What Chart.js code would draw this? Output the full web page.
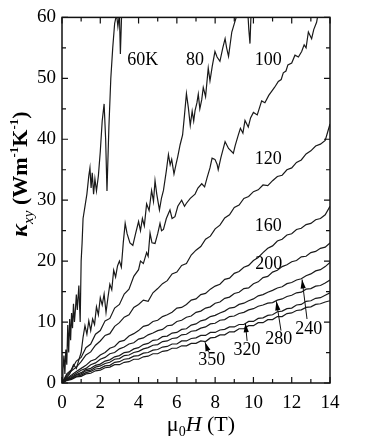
<!DOCTYPE html>
<html>
<head>
<meta charset="utf-8">
<script src="https://cdn.jsdelivr.net/npm/chart.js@4.4.1/dist/chart.umd.min.js"></script>
<style>
  html, body { margin: 0; padding: 0; background: #fff; }
  #wrap { width: 374px; height: 443px; }
</style>
</head>
<body>
<div id="wrap"><canvas id="myChart" width="374" height="443"></canvas></div>
<script>
// field grid (T) shared by the smoother curves
var fieldT = [0,0.25,0.5,0.75,1,1.25,1.5,1.75,2,2.25,2.5,2.75,3,3.25,3.5,3.75,4,4.25,4.5,4.75,5,5.25,5.5,5.75,6,6.25,6.5,6.75,7,7.25,7.5,7.75,8,8.25,8.5,8.75,9,9.25,9.5,9.75,10,10.25,10.5,10.75,11,11.25,11.5,11.75,12,12.25,12.5,12.75,13,13.25,13.5,13.75,14]

var kxy120 = [0,1.2,2.0,2.6,3.5,4.6,5.1,6.2,6.9,7.8,8.1,9.3,9.9,10.8,11.2,12.4,12.9,13.6,13.4,14.8,15.5,16.3,16.8,17.9,18.2,19.3,19.6,21.0,21.8,22.4,23.6,24.1,25.3,25.9,27.1,27.6,28.8,29.2,30.3,30.6,31.4,31.7,32.5,32.4,33.2,33.9,34.1,35.0,35.3,36.2,36.6,37.6,38.1,38.9,39.2,39.8,42.5]
var kxy160 = [0,0.8,1.3,1.9,2.4,2.9,3.6,3.9,4.6,5.0,5.7,6.0,6.8,7.0,7.7,8.1,8.6,9.3,9.5,10.1,10.3,10.9,11.2,11.6,12.3,12.4,12.9,13.6,13.8,14.5,14.7,15.4,15.9,16.2,17.0,17.2,18.0,18.3,19.0,19.3,20.1,20.6,21.4,22.1,22.5,23.3,23.6,24.3,24.5,25.2,25.4,26.0,26.2,26.8,27.0,27.6,29.0]
var kxy200 = [0,0.7,1.1,1.6,2.1,2.4,3.0,3.3,3.9,4.2,4.8,5.0,5.6,5.9,6.4,6.6,7.2,7.4,7.9,8.2,8.6,8.8,9.4,9.5,10.1,10.3,10.8,11.0,11.6,11.8,12.3,12.5,13.1,13.3,13.9,14.1,14.7,14.9,15.5,15.6,16.3,16.6,17.3,17.5,18.2,18.5,19.1,19.4,19.9,20.1,20.7,20.8,21.4,21.6,22.1,22.3,23.0]
var kxy240 = [0,0.6,0.9,1.4,1.7,2.2,2.4,2.9,3.1,3.6,3.8,4.3,4.5,5.0,5.1,5.6,5.8,6.3,6.5,7.0,7.1,7.6,7.7,8.2,8.3,8.8,8.9,9.5,9.7,10.2,10.4,10.9,11.1,11.5,11.8,12.3,12.4,12.9,13.1,13.5,13.8,14.3,14.5,14.9,15.2,15.6,15.8,16.3,16.5,16.9,17.1,17.6,17.9,18.4,18.6,19.1,19.8]
var kxy280 = [0,0.5,0.8,1.3,1.5,2.0,2.1,2.6,2.8,3.2,3.4,3.9,4.0,4.5,4.6,5.0,5.2,5.6,5.8,6.2,6.3,6.8,6.9,7.3,7.4,7.9,8.0,8.5,8.6,9.0,9.2,9.7,9.8,10.3,10.4,10.9,11.0,11.4,11.6,12.0,12.2,12.6,12.8,13.1,13.2,13.6,13.8,14.2,14.4,14.8,14.9,15.4,15.5,15.9,16.0,16.4,16.9]
var kxy320 = [0,0.5,0.7,1.1,1.3,1.7,1.9,2.3,2.4,2.8,2.9,3.4,3.5,3.9,4.0,4.4,4.5,4.9,5.0,5.4,5.5,5.9,6.0,6.4,6.4,6.9,6.9,7.3,7.4,7.8,7.8,8.3,8.3,8.7,8.8,9.2,9.2,9.6,9.6,10.1,10.1,10.6,10.7,11.1,11.2,11.7,11.8,12.2,12.3,12.8,12.9,13.4,13.5,13.9,14.0,14.4,14.8]
var kxy350 = [0,0.4,0.6,1.0,1.1,1.5,1.6,2.0,2.1,2.5,2.6,3.0,3.0,3.4,3.5,3.9,3.9,4.3,4.4,4.8,4.8,5.2,5.3,5.7,5.7,6.1,6.1,6.5,6.5,6.9,6.8,7.4,7.5,7.9,7.9,8.4,8.4,8.9,8.9,9.4,9.4,9.9,9.9,10.4,10.4,10.9,10.9,11.4,11.5,11.9,12.0,12.4,12.5,12.9,13.0,13.3,13.5]

// the noisy low-temperature curves
var field100 = [0,0.25,0.5,0.75,1,1.25,1.5,1.75,2,2.25,2.5,2.75,3,3.25,3.5,3.75,4,4.1,4.25,4.42,4.5,4.6,4.7,4.86,5,5.12,5.2,5.3,5.45,5.64,5.75,5.9,6.05,6.25,6.4,6.5,6.7,6.95,7.1,7.3,7.45,7.58,7.73,7.84,7.99,8.1,8.16,8.3,8.52,8.7,8.95,9.05,9.2,9.32,9.45,9.56,9.73,9.85,10,10.2,10.43,10.6,10.8,10.96,11.1,11.3,11.45,11.56,11.7,11.8,12,12.17,12.35,12.52,12.65,12.75,12.87,13.04,13.15,13.3,13.4,13.55,13.7,14]
var kxy100 = [0,1.5,2.2,3.6,4.2,5.8,6.4,8.0,8.6,10.2,10.6,12.3,12.9,14.6,15.4,17.5,18.6,20.0,19.6,21.4,20.8,24.6,23.0,22.9,24.5,26.2,25.0,25.2,27.0,28.4,27.0,27.3,29.0,30.0,29.0,29.5,30.3,31.0,32.0,32.7,32.2,33.7,35.3,36.9,36.7,35.9,35.0,37.0,39.6,38.5,37.7,39.0,40.6,41.8,41.0,43.1,42.0,43.5,44.4,44.0,46.3,46.0,47.2,47.9,48.5,49.5,49.8,50.9,51.2,52.2,52.5,53.8,53.5,54.4,55.5,55.0,57.6,56.5,58.0,59.2,61.0,60.5,61.5,63]

var field80 = [0,0.2,0.4,0.6,0.75,0.9,1,1.1,1.2,1.3,1.4,1.5,1.6,1.7,1.8,1.9,2,2.1,2.2,2.3,2.4,2.5,2.6,2.7,2.8,2.9,3,3.1,3.2,3.3,3.4,3.55,3.7,3.85,4,4.1,4.2,4.3,4.42,4.55,4.68,4.78,4.86,4.95,5.09,5.2,5.3,5.45,5.56,5.65,5.73,5.85,5.95,6.05,6.17,6.3,6.4,6.5,6.6,6.7,6.8,6.88,6.95,7.05,7.12,7.2,7.3,7.38,7.5,7.64,7.73,7.85,7.99,8.1,8.25,8.4,8.52,8.6,8.7,8.87,9.04,9.2,9.5,9.7,9.76,9.82,9.88,10]
var kxy80 = [0,0.8,1.5,3.0,2.4,4.0,5.0,7.5,9.4,8.0,10.2,8.6,10.5,9.6,12.5,11.2,14.0,12.8,14.6,11.6,14.0,16.2,15.3,18.5,17.4,19.2,20.0,19.0,23.0,26.2,24.5,23.0,22.6,24.6,26.5,25.0,27.0,25.8,29.4,28.3,31.6,29.8,33.2,31.0,28.4,30.4,31.6,34.8,37.5,35.8,36.7,34.3,35.8,37.2,39.1,40.7,44.0,47.5,45.2,42.3,44.6,43.0,44.7,46.0,47.4,45.0,46.5,48.5,47.0,51.7,49.6,52.0,54.4,53.5,52.8,55.0,56.5,55.0,53.6,57.6,59.4,61.0,62.0,61.2,58.0,55.7,61.0,63.0]

var field60 = [0,0.05,0.1,0.15,0.2,0.25,0.3,0.35,0.4,0.45,0.5,0.55,0.6,0.65,0.7,0.75,0.8,0.88,0.95,1,1.05,1.1,1.2,1.3,1.4,1.46,1.52,1.58,1.65,1.72,1.8,1.9,2,2.1,2.2,2.28,2.35,2.45,2.55,2.65,2.75,2.85,2.92,3,3.05,3.12,3.2]
var kxy60 = [0,2,4.5,1.5,5.5,3,9.5,5,10.5,7,11.5,9,13,10,12,14.5,12,16,10,20,23,27,29,31,34,35.3,32,34.5,31,33.5,31.5,34,38,43,45.8,40,31.5,42,50,55,59,60.5,58.5,60.5,54,61,62]

// curve labels and arrows (in data units)
var labelText = ['60K', '80', '100', '120', '160', '200', '240', '280', '320', '350']
var labelField = [4.22, 6.95, 10.78, 10.78, 10.78, 10.8, 12.89, 11.32, 9.67, 7.82]
var labelKxy = [53, 53, 53, 36.7, 25.7, 19.5, 8.9, 7.1, 5.3, 3.8]
var arrowFrom = [[12.8, 10.5], [11.44, 8.6], [9.67, 6.9], [7.65, 5.1]]
var arrowTo = [[12.54, 17.0], [11.2, 13.4], [9.58, 9.8], [7.47, 6.7]]

function pairs(xs, ys) {
    var out = []
    for (var i = 0; i < Math.min(xs.length, ys.length); i++) out.push({x: xs[i], y: ys[i]})
    return out
}

var series = [
    [field60, kxy60], [field80, kxy80], [field100, kxy100],
    [fieldT, kxy120], [fieldT, kxy160], [fieldT, kxy200],
    [fieldT, kxy240], [fieldT, kxy280], [fieldT, kxy320], [fieldT, kxy350]
]

var serif = "'Liberation Serif', 'Times New Roman', serif"
Chart.defaults.font.family = serif
Chart.defaults.color = '#000'

function drawRun(ctx, pieces, startX, baseY) {
    var x = startX
    pieces.forEach(function(p) {
        ctx.font = p.f
        ctx.fillText(p.t, x, baseY + (p.dy || 0))
        x += ctx.measureText(p.t).width
    })
}
function runWidth(ctx, pieces) {
    var w = 0
    pieces.forEach(function(p) { ctx.font = p.f; w += ctx.measureText(p.t).width })
    return w
}

var decor = {
    id: 'decor',
    afterDatasetsDraw: function(chart) {
        var ctx = chart.ctx, a = chart.chartArea
        var xs = chart.scales.x, ys = chart.scales.y
        ctx.save()
        ctx.strokeStyle = '#111'
        ctx.fillStyle = '#000'

        // frame with inward ticks
        ctx.lineWidth = 1.5
        ctx.strokeRect(a.left, a.top, a.right - a.left, a.bottom - a.top)
        ctx.lineWidth = 1.2
        ctx.beginPath()
        for (var t = 0; t <= 14; t++) {
            var px = xs.getPixelForValue(t), len = t % 2 ? 4 : 6
            ctx.moveTo(px, a.bottom); ctx.lineTo(px, a.bottom - len)
            ctx.moveTo(px, a.top); ctx.lineTo(px, a.top + len)
        }
        for (var v = 0; v <= 60; v += 5) {
            var py = ys.getPixelForValue(v), l2 = v % 10 ? 4 : 6
            ctx.moveTo(a.left, py); ctx.lineTo(a.left + l2, py)
            ctx.moveTo(a.right, py); ctx.lineTo(a.right - l2, py)
        }
        ctx.stroke()

        // curve labels
        ctx.font = '18px ' + serif
        ctx.textAlign = 'center'
        ctx.textBaseline = 'middle'
        for (var i = 0; i < labelText.length; i++) {
            ctx.fillText(labelText[i], xs.getPixelForValue(labelField[i]), ys.getPixelForValue(labelKxy[i]))
        }

        // arrows
        ctx.lineWidth = 1
        for (var j = 0; j < arrowFrom.length; j++) {
            var x0 = xs.getPixelForValue(arrowFrom[j][0]), y0 = ys.getPixelForValue(arrowFrom[j][1])
            var x1 = xs.getPixelForValue(arrowTo[j][0]), y1 = ys.getPixelForValue(arrowTo[j][1])
            var ang = Math.atan2(y1 - y0, x1 - x0)
            ctx.beginPath(); ctx.moveTo(x0, y0); ctx.lineTo(x1, y1); ctx.stroke()
            ctx.beginPath()
            ctx.moveTo(x1, y1)
            ctx.lineTo(x1 - 9 * Math.cos(ang) + 2.6 * Math.sin(ang), y1 - 9 * Math.sin(ang) - 2.6 * Math.cos(ang))
            ctx.lineTo(x1 - 9 * Math.cos(ang) - 2.6 * Math.sin(ang), y1 - 9 * Math.sin(ang) + 2.6 * Math.cos(ang))
            ctx.closePath(); ctx.fill()
        }

        // axis titles
        ctx.textAlign = 'left'
        ctx.textBaseline = 'alphabetic'
        var xTitle = [
            {t: 'μ', f: '22px ' + serif},
            {t: '0', f: '14px ' + serif, dy: 5},
            {t: 'H', f: 'italic 22px ' + serif},
            {t: ' (T)', f: '22px ' + serif}
        ]
        drawRun(ctx, xTitle, 201 - runWidth(ctx, xTitle) / 2, 431)

        var yTitle = [
            {t: 'κ', f: 'bold italic 24px ' + serif},
            {t: 'xy', f: 'italic 15px ' + serif, dy: 6},
            {t: ' (Wm', f: 'bold 22px ' + serif},
            {t: '-1', f: 'bold 13px ' + serif, dy: -9},
            {t: 'K', f: 'bold 22px ' + serif},
            {t: '-1', f: 'bold 13px ' + serif, dy: -9},
            {t: ')', f: 'bold 22px ' + serif}
        ]
        ctx.translate(27, 174)
        ctx.rotate(-Math.PI / 2)
        drawRun(ctx, yTitle, -runWidth(ctx, yTitle) / 2, 0)
        ctx.restore()
    }
}

var chart = new Chart(document.getElementById('myChart').getContext('2d'), {
    type: 'scatter',
    data: {
        datasets: series.map(function(s, k) {
            return {
                label: labelText[k],
                data: pairs(s[0], s[1]),
                showLine: true,
                borderColor: '#1a1a1a',
                borderWidth: 1.2,
                pointRadius: 0,
                tension: 0
            }
        })
    },
    options: {
        responsive: false,
        animation: false,
        layout: {padding: {top: 10, right: 44, left: 0, bottom: 0}},
        plugins: {legend: {display: false}, tooltip: {enabled: false}},
        scales: {
            x: {
                type: 'linear', min: 0, max: 14,
                grid: {display: false, drawTicks: false},
                border: {display: false},
                ticks: {stepSize: 2, padding: 9, font: {size: 19}, color: '#000'},
                afterFit: function(s) { s.height = 60 }
            },
            y: {
                type: 'linear', min: 0, max: 60,
                grid: {display: false, drawTicks: false},
                border: {display: false},
                ticks: {stepSize: 10, padding: 6, font: {size: 19}, color: '#000'},
                afterFit: function(s) { s.width = 62 }
            }
        }
    },
    plugins: [decor]
})
</script>
</body>
</html>
